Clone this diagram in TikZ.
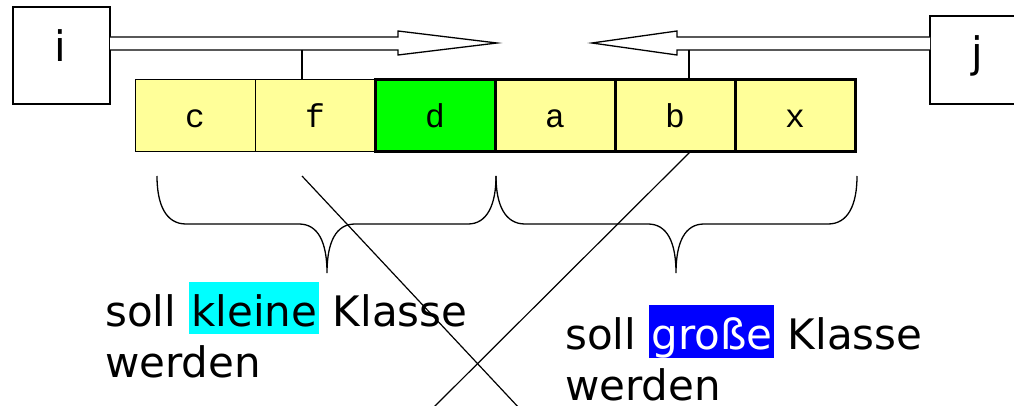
\documentclass[tikz,border=0pt]{standalone}
\usepackage{fontspec}
\newfontfamily\dvsans{DejaVu Sans}
\newfontfamily\lmono{Liberation Mono}
\definecolor{cellyellow}{HTML}{FFFF99}
\definecolor{cellgreen}{HTML}{00FF00}
\definecolor{hlcyan}{HTML}{00FFFF}
\definecolor{hlblue}{HTML}{0000FF}
\newcommand{\hlword}[3]{{\setlength\fboxsep{0pt}\colorbox{#1}{\rule[-8pt]{0pt}{52pt}\hspace{2pt}\textcolor{#2}{#3}\hspace{2pt}}}}
\tikzset{
  cellbox/.style={draw=black, fill=cellyellow, minimum width=120pt, minimum height=72pt, inner sep=0pt, text height=24pt, text depth=0pt, font=\lmono\fontsize{33}{33}\selectfont},
  thincell/.style={cellbox, line width=1pt},
  thickcell/.style={cellbox, line width=3pt},
  idxbox/.style={draw=black, line width=1.2pt, fill=white},
  bigtext/.style={font=\dvsans\fontsize{42}{51}\selectfont, inner sep=0pt},
  fatarrow/.style={draw=black, line width=1.3pt, fill=white, line join=miter},
  bracestyle/.style={draw=black, line width=1.3pt},
  thinline/.style={draw=black, line width=1.2pt}
}
\begin{document}
\begin{tikzpicture}[x=1pt, y=-1pt]
\useasboundingbox (0,0) rectangle (1014,406);
\clip (0,0) rectangle (1014,406);
% index boxes
\draw[idxbox] (13,7) rectangle (110,104);
\node[bigtext, anchor=base] (ilabel) at (60,62) {i};
\draw[idxbox] (930,16) rectangle (1030,104);
\node[bigtext, anchor=base] (jlabel) at (977,68) {j};
% cells
\node[thincell] (c) at (195,116) {c};
\node[thincell] (f) at (315,116) {f};
\node[thickcell, fill=cellgreen] (d) at (435,116) {d};
\node[thickcell] (a) at (555,116) {a};
\node[thickcell] (b) at (675,116) {b};
\node[thickcell] (x) at (795,116) {x};
% fat arrows
\draw[fatarrow] (110,37) -- (398,37) -- (398,31) -- (497,43) -- (398,55) -- (398,50) -- (110,50);
\draw[fatarrow] (930,37) -- (677,37) -- (677,31) -- (592,43) -- (677,55) -- (677,50) -- (930,50);
% connectors
\coordinate (ia) at (302,50);
\coordinate (ja) at (689,50);
\draw[thinline] (ia) -- (302,80);
\draw[thinline] (ja) -- (689,80);
% braces
\draw[bracestyle] (157,176) .. controls (157,205) and (166,224) .. (186,224) -- (299,224)
  .. controls (318,224) and (327,242) .. (327,273)
  .. controls (327,242) and (336,224) .. (355,224) -- (468,224)
  .. controls (487,224) and (496,205) .. (496,176);
\draw[bracestyle] (496,176) .. controls (496,205) and (505,224) .. (525,224) -- (648,224)
  .. controls (667,224) and (676,242) .. (676,273)
  .. controls (676,242) and (685,224) .. (704,224) -- (828,224)
  .. controls (848,224) and (857,205) .. (857,176);
% texts (base anchor = baseline of last line)
\node[bigtext, anchor=base west, align=left] (lefttext) at (105,377) {soll \hlword{hlcyan}{black}{kleine} Klasse\\werden};
\node[bigtext, anchor=base west, align=left] (righttext) at (565,400) {soll \hlword{hlblue}{white}{große} Klasse\\werden};
% crossing lines
\coordinate (l1s) at (302,176);
\coordinate (l1e) at (520,409);
\coordinate (l2s) at (690,152);
\coordinate (l2e) at (432,409);
\draw[thinline] (l1s) -- (l1e);
\draw[thinline] (l2s) -- (l2e);
\end{tikzpicture}
\end{document}
